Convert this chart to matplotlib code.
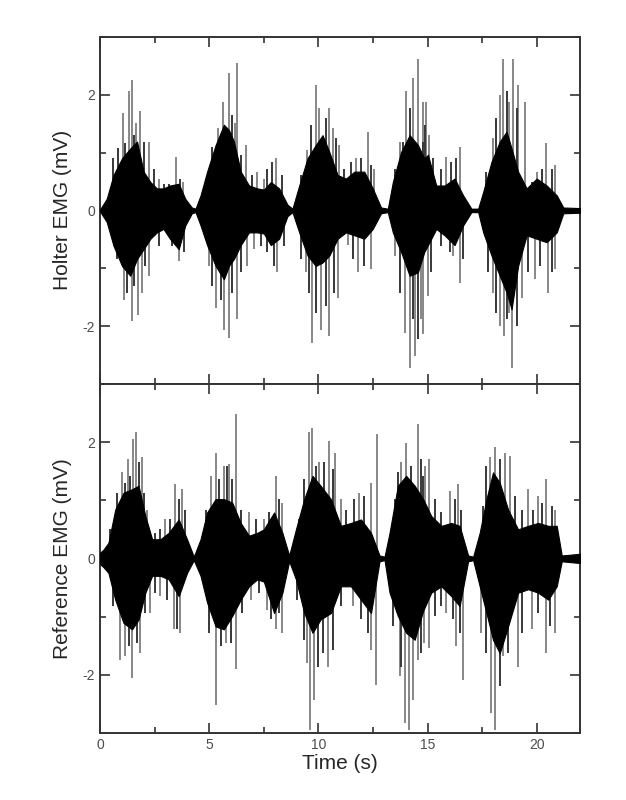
"""
Two stacked EMG traces (Holter vs. reference) over ~22 s of repeated
muscle contractions. The dense part of each burst is drawn as a filled
envelope, the halo of medium strokes as dark lines and the isolated
large peaks as grey spikes.
"""

import matplotlib.pyplot as plt
from matplotlib.ticker import MultipleLocator

plt.rcParams["font.family"] = ["Liberation Sans", "DejaVu Sans"]
plt.rcParams["axes.unicode_minus"] = False

# --- Holter EMG: dense envelope (time s, upper mV, lower mV) ---
HOLTER_CORE_T = [0.0, 0.3, 0.61, 1.0, 1.38, 1.69, 1.99, 2.3, 2.6, 2.9, 3.2, 3.6,
                 3.9, 4.2, 4.37, 4.6, 4.9, 5.29, 5.67, 5.9, 6.13, 6.44, 6.82,
                 7.2, 7.5, 7.82, 8.2, 8.58, 8.81, 9.12, 9.5, 9.88, 10.19, 10.5,
                 10.88, 11.26, 11.65, 12.1, 12.49, 12.87, 13.18, 13.41, 13.79,
                 14.18, 14.56, 14.85, 15.02, 15.4, 15.78, 16.24, 16.63, 17.01,
                 17.32, 17.55, 17.93, 18.31, 18.62, 18.85, 19.15, 19.54, 20.0,
                 20.46, 20.92, 21.22, 22.0]
HOLTER_CORE_HI = [0.02, 0.2, 0.61, 0.9, 1.07, 1.19, 0.67, 0.49, 0.38, 0.38, 0.43,
                  0.46, 0.2, 0.05, 0.03, 0.26, 0.67, 1.13, 1.48, 1.39, 1.19,
                  0.67, 0.43, 0.38, 0.36, 0.49, 0.38, 0.1, 0.03, 0.43, 0.9,
                  1.13, 1.3, 1.01, 0.61, 0.55, 0.67, 0.67, 0.38, 0.05, 0.03,
                  0.49, 1.01, 1.3, 1.13, 0.9, 0.96, 0.43, 0.43, 0.55, 0.26,
                  0.03, 0.03, 0.32, 0.84, 1.19, 1.36, 1.07, 0.67, 0.38, 0.55,
                  0.43, 0.26, 0.05, 0.04]
HOLTER_CORE_LO = [-0.02, -0.2, -0.61, -0.96, -1.13, -0.84, -0.67, -0.49, -0.38,
                  -0.32, -0.49, -0.67, -0.26, -0.05, -0.03, -0.26, -0.6, -0.96,
                  -1.19, -0.96, -0.84, -0.6, -0.38, -0.38, -0.4, -0.6, -0.49,
                  -0.1, -0.03, -0.38, -0.78, -0.96, -0.9, -0.78, -0.49, -0.38,
                  -0.43, -0.49, -0.32, -0.05, -0.03, -0.38, -0.72, -1.13, -1.07,
                  -0.72, -0.6, -0.32, -0.43, -0.6, -0.26, -0.03, -0.03, -0.38,
                  -0.78, -1.13, -1.42, -1.71, -0.96, -0.43, -0.49, -0.55, -0.38,
                  -0.05, -0.04]

# --- Holter EMG: medium strokes around the dense part ---
HOLTER_HALO_T = [0.61, 0.84, 1.15, 1.53, 1.99, 2.45, 2.91, 3.14, 3.68, 4.75,
                 5.13, 5.52, 6.05, 6.44, 6.97, 7.66, 7.89, 8.35, 9.2, 9.65,
                 10.34, 10.8, 11.19, 11.49, 11.95, 12.41, 13.49, 13.87, 14.18,
                 14.87, 14.79, 15.25, 15.63, 16.09, 16.32, 17.7, 18.16, 18.62,
                 19.08, 19.77, 20.23, 20.69,
                 0.77, 1.23, 1.53, 2.07, 2.68, 3.3, 3.83, 5.13, 5.52, 6.05,
                 6.44, 7.36, 7.66, 7.97, 8.43, 9.2, 9.58, 9.88, 10.34, 10.73,
                 11.57, 12.11, 13.72, 14.33, 14.56, 15.17, 15.63, 16.01, 16.63,
                 17.78, 18.16, 18.62, 19.08, 19.61, 20.15, 20.69]
HOLTER_HALO_V = [0.9, 1.07, 1.16, 1.3, 1.19, 0.72, 0.46, 0.46, 0.55, 0.38, 1.1,
                 1.3, 1.65, 0.96, 0.61, 0.72, 0.84, 0.61, 0.61, 1.48, 1.59, 1.25,
                 0.72, 0.84, 0.9, 0.78, 0.72, 1.19, 1.77, 1.48, 1.19, 0.9, 0.72,
                 0.84, 0.9, 0.67, 1.59, 2.06, 1.77, 0.49, 0.72, 0.72,
                 -0.84, -1.42, -1.3, -0.96, -0.61, -0.61, -0.72, -1.3, -1.54,
                 -1.42, -1.07, -0.61, -0.72, -0.96, -0.61, -0.84, -1.42, -1.77,
                 -1.65, -1.42, -0.84, -0.96, -1.42, -1.88, -2.23, -1.07, -0.61,
                 -0.72, -0.84, -1.07, -1.77, -1.88, -2.0, -1.07, -0.96, -1.07]

# --- Holter EMG: isolated peaks (time s, peak mV) ---
HOLTER_SPIKE_T = [1.04, 1.30, 1.47, 1.66, 1.84, 2.25, 2.68, 3.49, 3.8, 5.39, 5.62,
                  5.9, 6.28, 6.18, 6.67, 7.2, 7.51, 8.05, 9.5, 9.88, 10.04, 10.5,
                  10.65, 10.96, 11.72, 12.29, 12.57, 13.72, 14.02, 14.33, 14.56,
                  14.79, 14.94, 15.09, 15.86, 16.47, 18.0, 18.31, 18.47, 18.73,
                  18.92, 19.15, 19.46, 20.0, 20.41, 20.84,
                  1.07, 1.46, 1.72, 1.92, 2.25, 3.63, 4.98, 5.29, 5.67, 5.9, 6.28,
                  6.74, 7.05, 8.12, 9.42, 9.69, 10.1, 10.5, 10.91, 11.34, 11.83,
                  12.41, 13.49, 13.95, 14.18, 14.41, 14.71, 14.79, 15.02, 16.17,
                  16.47, 18.0, 18.31, 18.51, 18.73, 18.85, 19.31, 19.92, 20.5,
                  20.84]
HOLTER_SPIKE_V = [1.68, 2.06, 2.26, 1.51, 1.71, 1.19, 0.55, 0.93, 0.49, 1.42, 1.88,
                  2.38, 2.55, 1.51, 1.13, 0.67, 0.55, 0.9, 1.04, 2.17, 1.77, 1.77,
                  1.42, 1.13, 0.9, 1.36, 0.72, 1.19, 2.06, 2.29, 2.61, 1.88, 1.88,
                  1.3, 0.93, 1.1, 1.25, 2.0, 2.61, 1.88, 2.61, 2.17, 1.88, 0.67,
                  1.16, 0.78,
                  -1.54, -1.91, -1.8, -1.42, -1.13, -0.87, -0.96, -1.68, -2.06,
                  -2.2, -1.88, -0.96, -0.67, -1.07, -1.07, -2.29, -2.06, -2.17,
                  -1.51, -0.6, -1.07, -1.01, -0.78, -2.12, -2.72, -2.52, -1.88,
                  -2.14, -1.48, -0.78, -1.25, -1.42, -2.0, -2.17, -1.77, -2.72,
                  -1.51, -1.19, -1.42, -1.01]

# --- Reference EMG: dense envelope ---
REF_CORE_T = [0.0, 0.15, 0.38, 0.69, 1.07, 1.46, 1.76, 2.07, 2.38, 2.76, 3.14,
              3.6, 3.98, 4.29, 4.6, 4.9, 5.29, 5.67, 6.05, 6.44, 6.82, 7.2, 7.5,
              7.97, 8.35, 8.66, 8.97, 9.35, 9.73, 10.1, 10.57, 11.03, 11.49,
              11.95, 12.41, 12.8, 13.03, 13.26, 13.64, 14.02, 14.41, 14.8, 15.17,
              15.63, 16.09, 16.47, 16.86, 17.09, 17.39, 17.7, 18.0, 18.31, 18.69,
              19.15, 19.61, 20.07, 20.53, 20.92, 21.15, 22.0]
REF_CORE_HI = [0.1, 0.15, 0.27, 0.84, 1.13, 1.19, 1.25, 0.73, 0.33, 0.33, 0.44,
               0.67, 0.33, 0.03, 0.33, 0.79, 1.02, 1.02, 0.96, 0.61, 0.39, 0.44,
               0.5, 0.79, 0.44, 0.05, 0.5, 1.02, 1.42, 1.25, 1.02, 0.56, 0.61,
               0.67, 0.44, 0.05, 0.03, 0.44, 1.25, 1.42, 1.25, 1.02, 0.73, 0.56,
               0.61, 0.56, 0.05, 0.03, 0.44, 1.02, 1.48, 1.3, 0.84, 0.5, 0.56,
               0.61, 0.56, 0.56, 0.05, 0.08]
REF_CORE_LO = [-0.1, -0.15, -0.25, -0.71, -1.11, -1.22, -1.05, -0.59, -0.3, -0.3,
               -0.36, -0.65, -0.25, -0.03, -0.3, -0.76, -1.17, -1.22, -0.99,
               -0.71, -0.48, -0.36, -0.4, -0.94, -0.59, -0.05, -0.36, -0.94,
               -1.28, -1.05, -0.94, -0.48, -0.48, -0.71, -0.94, -0.05, -0.03,
               -0.59, -0.99, -1.28, -1.4, -0.9, -0.59, -0.48, -0.65, -0.82,
               -0.05, -0.03, -0.48, -0.94, -1.4, -1.63, -1.17, -0.59, -0.53,
               -0.59, -0.71, -0.48, -0.05, -0.08]

# --- Reference EMG: medium strokes ---
REF_HALO_T = [0.46, 0.77, 1.15, 1.38, 1.76, 1.99, 2.53, 2.76, 3.22, 3.6, 3.91,
              4.83, 5.44, 5.82, 6.05, 6.44, 7.13, 7.74, 8.2, 9.12, 9.35, 9.88,
              10.27, 10.65, 11.26, 11.65, 12.11, 13.49, 13.64, 14.25, 14.71,
              14.79, 15.32, 15.63, 16.24, 16.55, 17.55, 17.7, 18.31, 19.0,
              19.31, 19.84, 20.23, 20.69,
              0.61, 1.3, 1.69, 2.07, 2.53, 3.07, 3.52, 4.98, 5.52, 5.98, 6.51,
              7.28, 7.82, 8.2, 9.04, 9.35, 9.96, 10.19, 10.65, 11.03, 11.95,
              12.26, 13.41, 13.79, 14.71, 15.32, 15.63, 16.17, 16.47, 17.7,
              18.31, 18.69, 19.31, 20.07, 20.61]
REF_HALO_V = [0.5, 1.13, 1.3, 1.42, 1.65, 1.13, 0.44, 0.5, 0.67, 1.02, 0.84,
              0.84, 1.36, 1.59, 1.36, 0.84, 0.67, 0.79, 1.02, 0.67, 1.36, 1.59,
              1.65, 1.53, 0.84, 1.02, 1.07, 1.02, 1.48, 1.59, 1.71, 1.42, 1.02,
              0.79, 1.02, 0.84, 0.9, 1.59, 1.71, 1.07, 0.84, 0.84, 0.96, 0.9,
              -0.82, -1.51, -1.45, -0.94, -0.59, -0.71, -1.22, -1.28, -1.51,
              -1.45, -0.94, -0.59, -1.05, -0.94, -0.71, -1.4, -1.86, -1.63,
              -1.57, -0.82, -1.05, -1.28, -1.17, -1.86, -1.63, -0.99, -0.82,
              -1.05, -1.28, -1.63, -2.2, -1.63, -1.28, -0.94, -1.17]

# --- Reference EMG: isolated peaks ---
REF_SPIKE_T = [1.0, 1.26, 1.49, 1.66, 1.92, 2.15, 2.99, 3.42, 3.75, 5.06, 5.32,
               5.67, 5.9, 6.24, 6.82, 7.51, 8.05, 8.35, 9.58, 9.69, 10.04, 10.47,
               10.76, 11.03, 11.88, 12.41, 12.67, 13.79, 14.02, 14.56, 14.87,
               15.09, 16.01, 16.4, 17.85, 18.08, 18.54, 18.77, 19.61, 20.07,
               20.41, 20.84,
               0.92, 1.15, 1.46, 1.84, 2.3, 2.76, 3.4, 3.68, 5.33, 5.75, 6.21,
               6.9, 7.66, 8.05, 8.35, 9.47, 9.62, 9.81, 10.42, 11.57, 12.41,
               12.64, 13.72, 13.95, 14.13, 14.33, 14.56, 14.86, 15.09, 15.86,
               16.32, 16.63, 17.47, 17.93, 18.08, 18.46, 19.15, 19.77, 20.41,
               20.84]
REF_SPIKE_V = [1.48, 1.71, 2.05, 2.17, 1.74, 0.84, 0.67, 1.28, 1.19, 1.42, 1.82,
               1.59, 1.62, 2.48, 0.79, 0.67, 1.42, 0.96, 2.17, 2.25, 1.65, 2.02,
               1.82, 1.02, 1.13, 1.3, 2.14, 1.65, 1.99, 2.31, 1.59, 1.71, 1.16,
               1.28, 1.74, 1.91, 1.82, 1.76, 1.19, 1.07, 1.36, 0.84,
               -1.74, -1.68, -2.06, -1.63, -0.94, -0.65, -1.22, -1.28, -2.52,
               -1.45, -1.91, -0.71, -0.88, -1.22, -1.28, -1.8, -2.95, -2.43,
               -1.86, -0.82, -1.57, -2.17, -2.03, -2.83, -2.95, -2.43, -1.74,
               -1.45, -1.54, -0.94, -1.51, -2.09, -1.28, -2.66, -2.95, -1.68,
               -1.86, -1.22, -1.63, -1.28]

X_MAX = 22
Y_LIM = (-3, 3)


def draw_trace(ax, core, halo, spikes, ylabel):
    core_t, core_hi, core_lo = core
    ax.axhline(0, color="black", lw=1.4, zorder=1)
    ax.vlines(spikes[0], 0, spikes[1], color="0.45", lw=1.2, zorder=2)
    ax.vlines(halo[0], 0, halo[1], color="0.22", lw=1.4, zorder=3)
    ax.fill_between(core_t, core_lo, core_hi, color="black", lw=0.8,
                    edgecolor="black", zorder=4)

    ax.set_xlim(0, X_MAX)
    ax.set_ylim(*Y_LIM)
    ax.xaxis.set_major_locator(MultipleLocator(5))
    ax.xaxis.set_minor_locator(MultipleLocator(2.5))
    ax.yaxis.set_major_locator(MultipleLocator(2))
    ax.yaxis.set_minor_locator(MultipleLocator(1))
    ax.tick_params(which="both", direction="in", top=True, right=True,
                   width=1.2, color="0.2", labelsize=10, labelcolor="0.3")
    ax.tick_params(which="major", length=7)
    ax.tick_params(which="minor", length=4)
    for spine in ax.spines.values():
        spine.set_linewidth(1.4)
        spine.set_color("0.2")
    ax.set_ylabel(ylabel, fontsize=15, color="0.15", labelpad=8)


def main() -> None:
    fig = plt.figure(figsize=(6.26, 8.0), dpi=100)
    ax_top = fig.add_axes([0.16, 0.52, 0.767, 0.434])
    ax_bot = fig.add_axes([0.16, 0.084, 0.767, 0.436], sharex=ax_top)

    draw_trace(ax_top,
               (HOLTER_CORE_T, HOLTER_CORE_HI, HOLTER_CORE_LO),
               (HOLTER_HALO_T, HOLTER_HALO_V),
               (HOLTER_SPIKE_T, HOLTER_SPIKE_V),
               "Holter EMG (mV)")
    draw_trace(ax_bot,
               (REF_CORE_T, REF_CORE_HI, REF_CORE_LO),
               (REF_HALO_T, REF_HALO_V),
               (REF_SPIKE_T, REF_SPIKE_V),
               "Reference EMG (mV)")

    ax_top.tick_params(labelbottom=False)
    ax_bot.set_xlabel("Time (s)", fontsize=15, color="0.15", labelpad=2)

    fig.savefig("out.png", dpi=100)
    plt.close(fig)


if __name__ == "__main__":
    main()
